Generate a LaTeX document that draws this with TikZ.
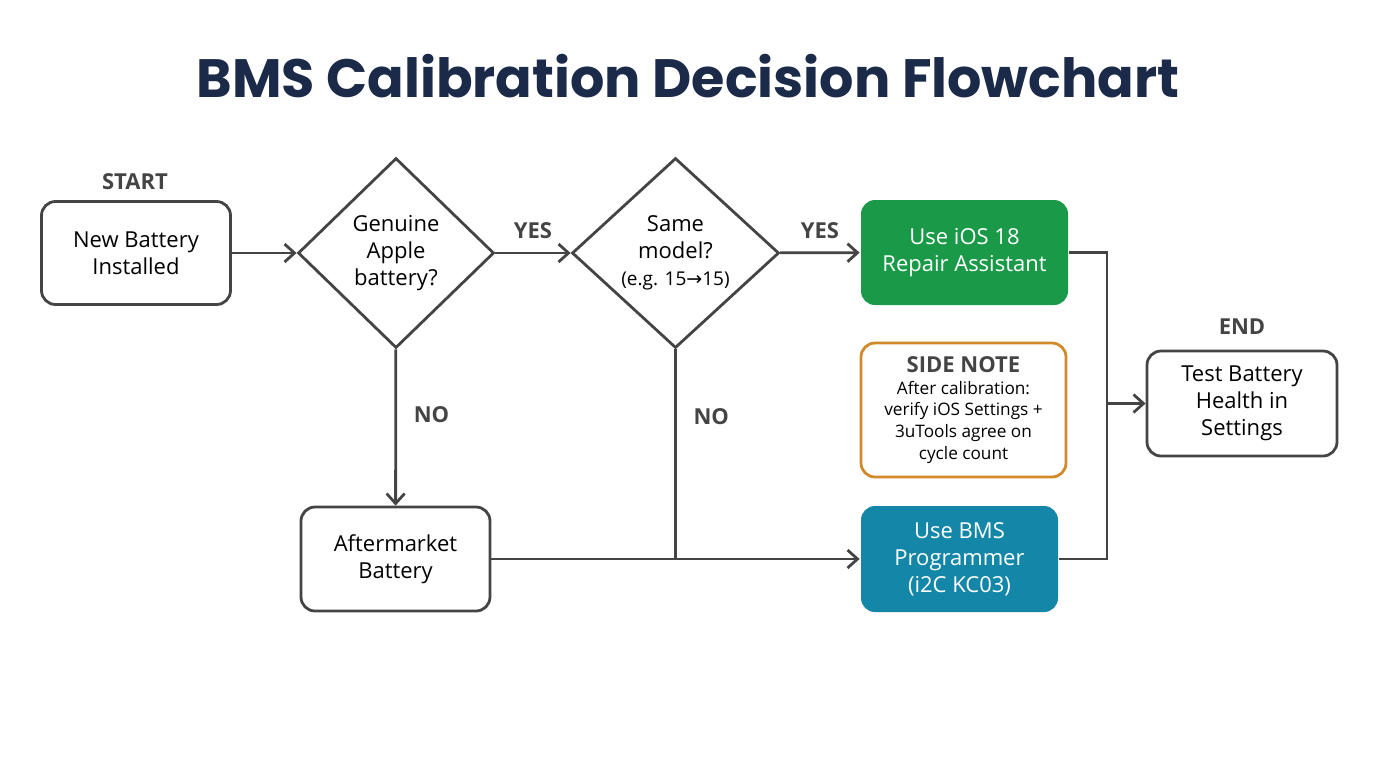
\documentclass[tikz,border=0pt]{standalone}
\usepackage{fontspec}
\setmainfont{Open Sans}
\newfontfamily\titlefont{Poppins}
\newfontfamily\arrfont{DejaVu Sans}
\usetikzlibrary{shapes.geometric,arrows.meta}
\definecolor{navy}{HTML}{1B2A48}
\definecolor{linegray}{HTML}{444444}
\definecolor{okgreen}{HTML}{1A9A48}
\definecolor{progblue}{HTML}{1487A8}
\definecolor{noteorange}{HTML}{D08A2A}
\tikzset{
box/.style={draw=linegray,line width=1.4pt,rounded corners=7pt,align=center,inner sep=0pt,font=\fontsize{11}{13.5}\selectfont},
dec/.style={draw=linegray,line width=1.4pt,diamond,align=center,inner sep=0pt,minimum width=98pt,minimum height=95pt,font=\fontsize{11}{13.5}\selectfont},
tag/.style={font=\bfseries\fontsize{11}{13}\selectfont,text=linegray},
flow/.style={draw=linegray,line width=1.4pt,-{Straight Barb[length=5pt,width=9pt]}},
link/.style={draw=linegray,line width=1.4pt}
}
\begin{document}
\begin{tikzpicture}[x=0.5pt,y=-0.5pt]
\useasboundingbox (0,0) rectangle (1376,768);
\node[font=\titlefont\bfseries\fontsize{27}{31}\selectfont,text=navy] (title) at (688,76) {BMS Calibration Decision Flowchart};
% nodes
\node[tag] (start) at (135,182) {START};
\node[box,minimum width=94.5pt,minimum height=51.5pt] (install) at (136,253) {New Battery\\Installed};
\node[dec] (genuine) at (396,253) {Genuine\\Apple\\battery?};
\node[dec,minimum width=103.5pt] (same) at (675.5,253) {Same\\model?\\{\fontsize{9.5}{12}\selectfont(e.g. 15{\arrfont→}15)}};
\node[box,draw=none,fill=okgreen,text=white,minimum width=103.5pt,minimum height=52.5pt] (repair) at (964.5,252.5) {Use iOS 18\\Repair Assistant};
\node[box,draw=noteorange,minimum width=102.5pt,minimum height=67pt,font=\fontsize{8.6}{10.8}\selectfont] (note) at (963.5,410) {{\bfseries\fontsize{11}{13}\selectfont\color{linegray}SIDE NOTE}\\After calibration:\\verify iOS Settings +\\3uTools agree on\\cycle count};
\node[box,draw=none,fill=progblue,text=white,minimum width=98.5pt,minimum height=53pt] (prog) at (959.5,559) {Use BMS\\Programmer\\(i2C KC03)};
\node[box,minimum width=94.5pt,minimum height=52pt] (after) at (395.5,559) {Aftermarket\\Battery};
\node[tag] (endtag) at (1242,327) {END};
\node[box,minimum width=95pt,minimum height=52.5pt] (test) at (1242,403.5) {Test Battery\\Health in\\Settings};
\coordinate (join) at (675.5,559);
\coordinate (bus) at (1107,403.5);
% connectors
\draw[flow] (install) -- (genuine);
\draw[flow] (genuine) -- node[tag,above=3pt] {YES} (same);
\draw[flow] (same) -- node[tag,above=3pt] {YES} (repair);
\draw[flow] (genuine) -- node[tag,right=5pt,pos=0.42] {NO} (after);
\draw[link] (same) -- node[tag,right=5pt,pos=0.32] {NO} (join);
\draw[flow] (after) -- (prog);
\draw[link] (repair.east) -| (bus) |- (prog.east);
\draw[flow] (bus) -- (test);
\end{tikzpicture}
\end{document}
